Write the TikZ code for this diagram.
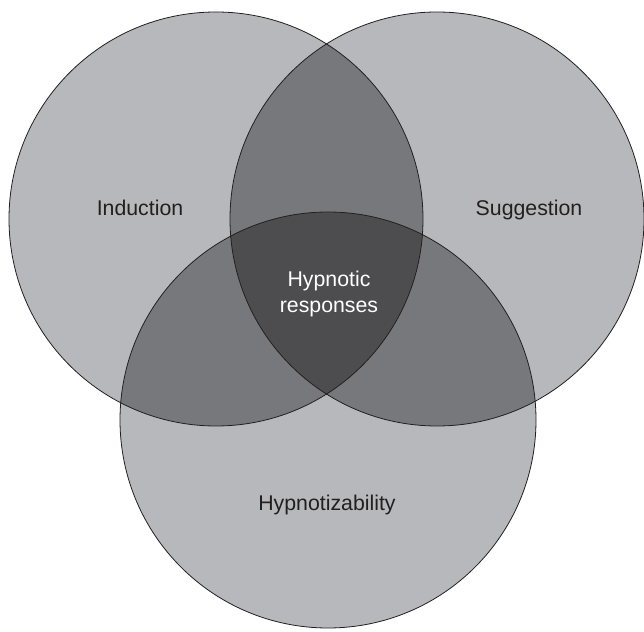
\documentclass[tikz,border=0pt]{standalone}
\usepackage{fontspec}
\setmainfont{Liberation Sans}
\usepackage{xcolor}
\definecolor{onegray}{HTML}{B7B8BB}
\definecolor{twogray}{HTML}{77787B}
\definecolor{threegray}{HTML}{4D4D4F}
\definecolor{ink}{HTML}{231F20}

\begin{document}
\begin{tikzpicture}[x=1pt,y=1pt]
        \tikzset{every node/.style={font=\fontsize{21.3}{26}\selectfont, text=ink, align=center, inner sep=0pt}}
        \useasboundingbox (0,0) rectangle (644,631);
        \coordinate (ind) at (216,412);
        \coordinate (sug) at (437,412);
        \coordinate (hyp) at (328,211);
        \def\rad{207}
        
        % single regions
        \fill[onegray] (ind) circle[radius=\rad];
        \fill[onegray] (sug) circle[radius=\rad];
        \fill[onegray] (hyp) circle[radius=208];
        
        % pairwise overlaps
        \begin{scope}
            \clip (ind) circle[radius=\rad];
            \fill[twogray] (sug) circle[radius=\rad];
            \fill[twogray] (hyp) circle[radius=208];
        \end{scope}
        \begin{scope}
            \clip (sug) circle[radius=\rad];
            \fill[twogray] (hyp) circle[radius=208];
        \end{scope}
        
        % centre
        \begin{scope}
            \clip (ind) circle[radius=\rad];
            \clip (sug) circle[radius=\rad];
            \fill[threegray] (hyp) circle[radius=208];
        \end{scope}
        
        \draw[ink, line width=0.8pt] (ind) circle[radius=\rad];
        \draw[ink, line width=0.8pt] (sug) circle[radius=\rad];
        \draw[ink, line width=0.8pt] (hyp) circle[radius=208];
        
        \node (induction) at (140,423) {Induction};
        \node (suggestion) at (529,421) {Suggestion};
        \node (hypnotizability) at (327,126) {Hypnotizability};
        \node[text=white] (responses) at (329,337) {Hypnotic\\responses};
    \end{tikzpicture}
\end{document}
